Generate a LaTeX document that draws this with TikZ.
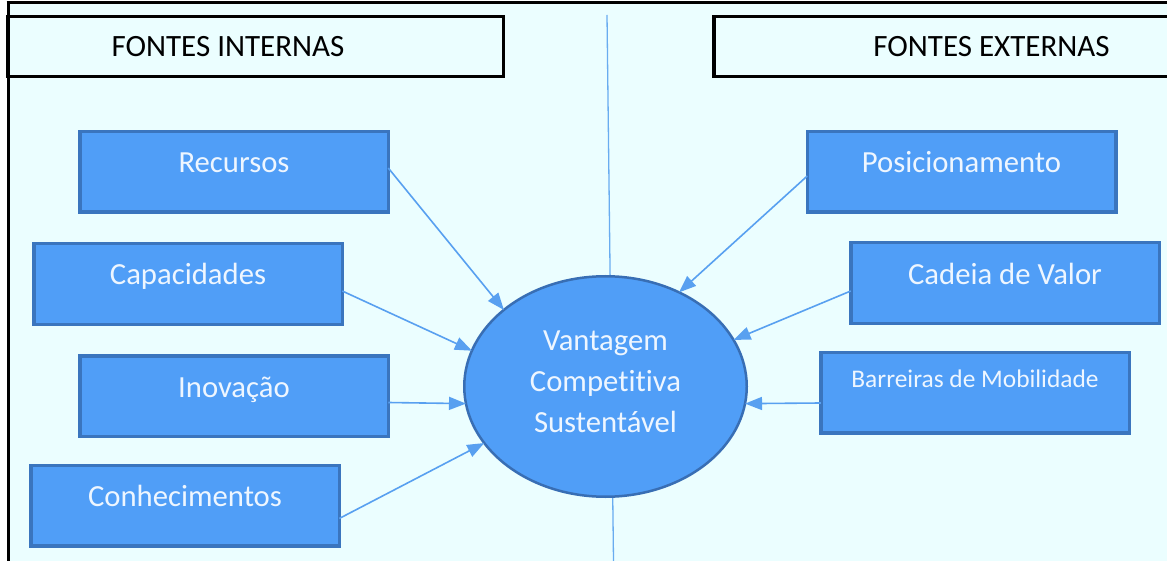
\documentclass[tikz,border=0pt]{standalone}
\usepackage{fontspec}
\setmainfont{Carlito}[Ligatures=NoCommon]
\usetikzlibrary{arrows.meta,shapes.geometric,calc}
\definecolor{bgc}{RGB}{235,254,255}
\definecolor{boxfill}{RGB}{80,158,247}
\definecolor{boxline}{RGB}{58,117,190}
\definecolor{ellline}{RGB}{56,110,180}
\definecolor{arr}{RGB}{88,160,240}
\definecolor{vline}{RGB}{105,172,240}
\definecolor{btext}{RGB}{238,246,255}
\begin{document}
\begin{tikzpicture}[x=1pt,y=-1pt,
  srcbox/.style={draw=boxline, line width=3.5pt, fill=boxfill,
    minimum width=308.5pt, minimum height=80.5pt, inner sep=0pt, outer sep=0pt,
    text=btext, font=\fontsize{30.7}{36}\selectfont, text height=12pt, text depth=10pt},
  headbox/.style={draw=black, line width=3.5pt, fill=bgc, minimum height=59.8pt,
    inner sep=0pt, outer sep=0pt},
  headtext/.style={anchor=base, text=black, font=\fontsize{31}{36}\selectfont, inner sep=0pt},
  arrowline/.style={draw=arr, line width=1.6pt, -{Triangle[length=17pt,width=13pt]}},
  frameline/.style={draw=black, line width=3pt}
]
\useasboundingbox (0,0) rectangle (1167,561);
\fill[white] (0,0) rectangle (1167,561);
\fill[bgc] (8,3) rectangle (1167,561);
\coordinate (ftl) at (6.5,3);
\coordinate (ftr) at (1170,3);
\coordinate (fbl) at (8,565);
\draw[frameline] (ftl) -- (ftr);
\draw[frameline] (8,3) -- (fbl);

% headers
\node[headbox, minimum width=495.5pt] (hint) at (255.75,46.6) {};
\node[headtext] (tint) at (228,57) {FONTES INTERNAS};
\node[headbox, minimum width=466pt] (hext) at (947,46.6) {};
\node[headtext] (text) at (991.5,57) {FONTES EXTERNAS};

% vertical divider
\coordinate (vt) at (607,15);
\coordinate (vb) at (613.5,561);
\draw[vline, line width=1.3pt] (vt) -- (vb);

% central ellipse
\node[ellipse, draw=ellline, line width=2.5pt, fill=boxfill, minimum width=282.5pt,
  minimum height=220.5pt, inner sep=0pt, outer sep=0pt] (ell) at (605.5,386.5) {};
\node[align=center, text=btext, font=\fontsize{30.7}{41}\selectfont, inner sep=0pt]
  (vcs) at (605.5,381.5) {Vantagem\\Competitiva\\Sustentável};

% internal sources
\node[srcbox] (rec) at (234,172) {Recursos};
\node[srcbox] (cap) at (188,284) {Capacidades};
\node[srcbox] (ino) at (234,396) {Inovação};
\node[srcbox] (con) at (185,505.5) {Conhecimentos};

% external sources
\node[srcbox] (pos) at (961.5,172) {Posicionamento};
\node[srcbox] (cad) at (1005,283) {Cadeia de Valor};
\node[srcbox, font=\fontsize{25.4}{30}\selectfont, text height=5pt, text depth=16pt]
  (bar) at (975,392.5) {Barreiras de Mobilidade};

% connectors
\draw[arrowline] ([yshift=4pt]rec.east) -- (ell.143);
\draw[arrowline] ([yshift=-7pt]cap.east) -- (ell.165);
\draw[arrowline] ([yshift=-6.5pt]ino.east) -- (ell.187);
\draw[arrowline] ([yshift=-13pt]con.east) -- (ell.205);
\draw[arrowline] ([yshift=-4pt]pos.west) -- (ell.52);
\draw[arrowline] ([yshift=-8pt]cad.west) -- (ell.20);
\draw[arrowline] ([yshift=-10.5pt]bar.west) -- (ell.353);
\end{tikzpicture}
\end{document}
